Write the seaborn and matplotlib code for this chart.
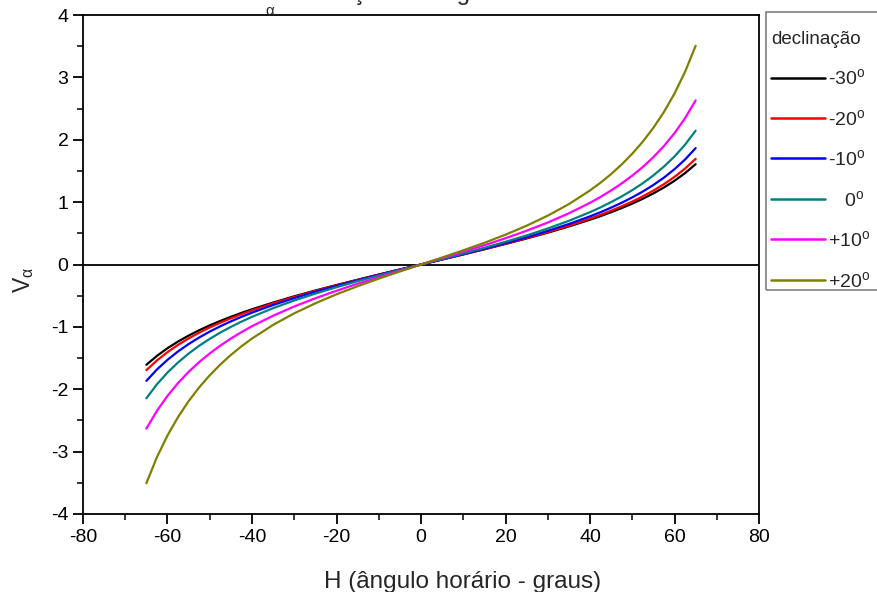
import matplotlib
matplotlib.use("Agg")
import matplotlib.pyplot as plt
from matplotlib.ticker import MultipleLocator
from matplotlib.patches import Rectangle
import pandas as pd
import seaborn as sns

# Hour angle (degrees)
H = [-65, -62.5, -60, -57.5, -55, -52.5, -50, -47.5, -45, -42.5, -40, -35, -30, -25, -20, -15, -10, -5, 0,
     5, 10, 15, 20, 25, 30, 35, 40, 42.5, 45, 47.5, 50, 52.5, 55, 57.5, 60, 62.5, 65]

# V_alpha for each declination
v_m30 = [-1.608, -1.465, -1.342, -1.235, -1.140, -1.054, -0.976, -0.905, -0.839, -0.776, -0.718, -0.610, -0.510,
         -0.417, -0.329, -0.244, -0.161, -0.080, 0.0,
         0.080, 0.161, 0.244, 0.329, 0.417, 0.510, 0.610, 0.718, 0.776, 0.839, 0.905, 0.976, 1.054, 1.140,
         1.235, 1.342, 1.465, 1.608]
v_m20 = [-1.694, -1.538, -1.405, -1.288, -1.185, -1.093, -1.009, -0.933, -0.863, -0.797, -0.736, -0.622, -0.520,
         -0.424, -0.334, -0.247, -0.163, -0.081, 0.0,
         0.081, 0.163, 0.247, 0.334, 0.424, 0.520, 0.622, 0.736, 0.797, 0.863, 0.933, 1.009, 1.093, 1.185,
         1.288, 1.405, 1.538, 1.694]
v_m10 = [-1.866, -1.683, -1.528, -1.393, -1.275, -1.170, -1.076, -0.990, -0.912, -0.839, -0.772, -0.649, -0.539,
         -0.437, -0.343, -0.254, -0.167, -0.083, 0.0,
         0.083, 0.167, 0.254, 0.343, 0.437, 0.539, 0.649, 0.772, 0.839, 0.912, 0.990, 1.076, 1.170, 1.275,
         1.393, 1.528, 1.683, 1.866]
v_0 = [-2.145, -1.921, -1.732, -1.570, -1.428, -1.303, -1.192, -1.091, -1.000, -0.916, -0.839, -0.700, -0.577,
       -0.466, -0.364, -0.268, -0.176, -0.087, 0.0,
       0.087, 0.176, 0.268, 0.364, 0.466, 0.577, 0.700, 0.839, 0.916, 1.000, 1.091, 1.192, 1.303, 1.428,
       1.570, 1.732, 1.921, 2.145]
v_p10 = [-2.631, -2.346, -2.106, -1.900, -1.721, -1.564, -1.425, -1.300, -1.187, -1.084, -0.989, -0.821, -0.673,
         -0.541, -0.421, -0.309, -0.203, -0.101, 0.0,
         0.101, 0.203, 0.309, 0.421, 0.541, 0.673, 0.821, 0.989, 1.084, 1.187, 1.300, 1.425, 1.564, 1.721,
         1.900, 2.106, 2.346, 2.631]
v_p20 = [-3.506, -3.089, -2.740, -2.445, -2.191, -1.970, -1.776, -1.604, -1.450, -1.312, -1.187, -0.968, -0.783,
         -0.622, -0.478, -0.348, -0.227, -0.112, 0.0,
         0.112, 0.227, 0.348, 0.478, 0.622, 0.783, 0.968, 1.187, 1.312, 1.450, 1.604, 1.776, 1.970, 2.191,
         2.445, 2.740, 3.089, 3.506]

labels = [r"-30$^{\rm o}$", r"-20$^{\rm o}$", r"-10$^{\rm o}$",
          r"   0$^{\rm o}$", r"+10$^{\rm o}$", r"+20$^{\rm o}$"]
series = [v_m30, v_m20, v_m10, v_0, v_p10, v_p20]
colors = ["#000000", "#ff0000", "#0000ff", "#008080", "#ff00ff", "#808000"]

frames = [pd.DataFrame({"H": H, "V": s, "dec": lab}) for s, lab in zip(series, labels)]
df = pd.concat(frames, ignore_index=True)

sns.set_style("ticks")
plt.rcParams["font.family"] = ["Liberation Sans", "DejaVu Sans"]
plt.rcParams["mathtext.fontset"] = "custom"
plt.rcParams["mathtext.rm"] = "Liberation Sans"
plt.rcParams["mathtext.it"] = "Liberation Sans:italic"
plt.rcParams["mathtext.default"] = "regular"
plt.rcParams["axes.unicode_minus"] = False

W, Hpx = 877, 592
fig = plt.figure(figsize=(W / 100, Hpx / 100), dpi=100)
ax = fig.add_axes([83 / W, 1 - 514 / Hpx, (759 - 83) / W, (514 - 15) / Hpx])

sns.lineplot(data=df, x="H", y="V", hue="dec", palette=colors,
             linewidth=1.6, ax=ax, legend=True, sort=False)
ax.axhline(0, color="black", linewidth=1.3, zorder=1)

ax.set_xlim(-80, 80)
ax.set_ylim(-4, 4)
ax.xaxis.set_major_locator(MultipleLocator(20))
ax.xaxis.set_minor_locator(MultipleLocator(10))
ax.yaxis.set_major_locator(MultipleLocator(1))
ax.yaxis.set_minor_locator(MultipleLocator(0.5))
ax.tick_params(axis="both", which="major", direction="out", length=7,
               width=1.3, labelsize=14, top=False, right=False, colors="black")
ax.tick_params(axis="both", which="minor", direction="out", length=4,
               width=1.3, top=False, right=False)
for sp in ax.spines.values():
    sp.set_visible(True)
    sp.set_linewidth(1.3)
    sp.set_color("black")

ax.set_xlabel("H (ângulo horário - graus)", fontsize=17.5)
ax.xaxis.set_label_coords((463 - 83) / (759 - 83), -0.115)
ax.set_ylabel(r"V$_\alpha$", fontsize=16.5)
ax.yaxis.set_label_coords(-0.07, 0.47)

# title along the top edge: "V", a lowered small alpha, then the rest
renderer = fig.canvas.get_renderer()
t1 = fig.text(250 / W, 1.0, "V", fontsize=17, ha="left", va="baseline")
x1 = t1.get_window_extent(renderer).x1
t2 = fig.text(x1 / W, 1 - 15 / Hpx, "α", fontsize=11, ha="left", va="baseline")
x2 = t2.get_window_extent(renderer).x1
fig.text(x2 / W, 1.0, " em função do ângulo horário", fontsize=17,
         ha="left", va="baseline")

handles, labs = ax.get_legend_handles_labels()
ax.get_legend().remove()

# legend frame (runs past the right edge of the figure)
fig.patches.append(Rectangle((766 / W, 1 - 290 / Hpx), 0.2, 278 / Hpx,
                             transform=fig.transFigure, fill=False,
                             edgecolor="#808080", linewidth=1.2, zorder=0))
leg = fig.legend(handles, labs, title="declinação", loc="upper left",
                 bbox_to_anchor=(771 / W, 1 - 31 / Hpx), fontsize=14, title_fontsize=13.5,
                 handlelength=2.8, handletextpad=0.15, labelspacing=1.05,
                 borderpad=0, borderaxespad=0, frameon=False, alignment="left")
for line in leg.get_lines():
    line.set_linewidth(1.8)

fig.savefig("out.png", dpi=100)
